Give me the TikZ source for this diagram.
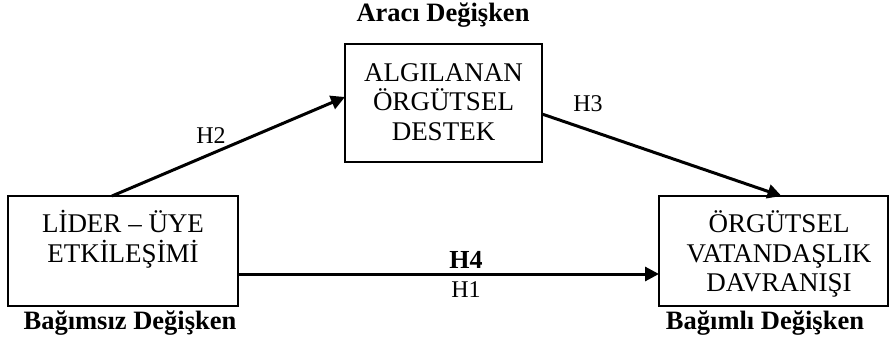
\documentclass[tikz,border=0pt]{standalone}
\usepackage{fontspec}
\setmainfont{Liberation Serif}
\usetikzlibrary{arrows.meta,calc}
\begin{document}
\begin{tikzpicture}[x=1pt,y=-1pt,
  box/.style={draw,line width=2.2pt,inner sep=0pt,outer sep=0pt},
  boxtext/.style={align=center,font=\fontsize{27}{29.5}\selectfont,inner sep=0pt},
  vartitle/.style={font=\fontsize{26.5}{30}\selectfont\bfseries,inner sep=0pt},
  hyp/.style={font=\fontsize{24}{28}\selectfont,inner sep=0pt},
  conn/.style={line width=3pt,-{Triangle[length=14pt,width=14pt]}}]
\useasboundingbox (0,0) rectangle (889,342);
\node[box,minimum width=230pt,minimum height=110pt] (lbox) at (123,251) {};
\node[box,minimum width=197pt,minimum height=118pt] (mbox) at (443.5,103) {};
\node[box,minimum width=229pt,minimum height=110pt] (rbox) at (773.5,251) {};
\node[boxtext] (ltext) at (123,239) {LİDER – ÜYE\\ETKİLEŞİMİ};
\node[boxtext] (mtext) at (443.5,102) {ALGILANAN\\ÖRGÜTSEL\\DESTEK};
\node[boxtext] (rtext) at (779,254) {ÖRGÜTSEL\\VATANDAŞLIK\\DAVRANIŞI};
\node[vartitle,anchor=base] (tmid) at (443,22) {Aracı Değişken};
\node[vartitle,anchor=base] (tleft) at (130,329) {Bağımsız Değişken};
\node[vartitle,anchor=base] (tright) at (765,329) {Bağımlı Değişken};
\draw[conn] ($(lbox.north west)+(104,0)$) -- ($(mbox.west)+(0,-6)$);
\draw[conn] ($(mbox.east)+(0,11)$) -- ($(rbox.north)+(8,0)$);
\draw[conn] ($(lbox.east)+(0,23)$) -- ($(rbox.west)+(0,23)$);
\node[hyp,anchor=base] (h2) at (211,143) {H2};
\node[hyp,anchor=base] (h3) at (588,112) {H3};
\node[hyp,anchor=base,font=\fontsize{26}{28}\selectfont\bfseries] (h4) at (466,268) {H4};
\node[hyp,anchor=base] (h1) at (466,297) {H1};
\end{tikzpicture}
\end{document}
